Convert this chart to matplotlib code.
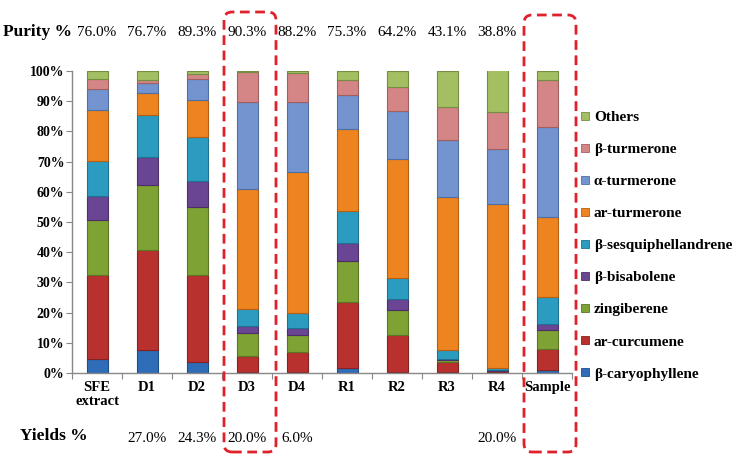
import matplotlib
matplotlib.use("Agg")
import matplotlib.pyplot as plt
import numpy as np
from matplotlib.patches import FancyBboxPatch
from matplotlib.lines import Line2D
from matplotlib.transforms import IdentityTransform, blended_transform_factory

plt.rcParams['font.family'] = ['Liberation Serif', 'DejaVu Serif']

categories = ["SFE\nextract", "D1", "D2", "D3", "D4", "R1", "R2", "R3", "R4", "Sample"]
components = ["β-caryophyllene", "ar-curcumene", "zingiberene", "β-bisabolene",
              "β-sesquiphellandrene", "ar-turmerone", "α-turmerone", "β-turmerone", "Others"]

caryophyllene = [4.6, 7.5, 3.5, 0.3, 0.3, 1.6, 0.3, 0.3, 0.3, 0.9]
ar_curcumene = [28.0, 33.2, 29.1, 5.4, 6.7, 21.8, 12.2, 3.4, 0.3, 7.0]
zingiberene = [17.9, 21.7, 22.3, 7.7, 5.5, 13.6, 8.2, 0.7, 0.2, 6.4]
bisabolene = [8.2, 9.0, 8.6, 2.0, 2.3, 6.1, 3.7, 0.4, 0.2, 2.0]
sesquiphellandrene = [11.4, 14.0, 14.5, 5.9, 5.2, 10.7, 7.2, 2.9, 0.8, 9.0]
ar_turmerone = [16.9, 7.2, 12.3, 39.7, 46.5, 27.0, 39.1, 50.5, 54.2, 26.3]
alpha_turmerone = [7.0, 3.4, 7.0, 28.9, 23.4, 11.2, 16.1, 18.9, 18.1, 30.0]
beta_turmerone = [3.3, 1.0, 1.6, 9.8, 9.6, 5.0, 7.9, 11.1, 12.4, 15.4]
others = [2.7, 3.0, 1.1, 0.3, 0.5, 3.0, 5.3, 11.8, 14.0, 3.0]

series = [caryophyllene, ar_curcumene, zingiberene, bisabolene, sesquiphellandrene,
          ar_turmerone, alpha_turmerone, beta_turmerone, others]

purity = ["76.0%", "76.7%", "89.3%", "90.3%", "88.2%", "75.3%", "64.2%", "43.1%", "38.8%", ""]
yields = ["", "27.0%", "24.3%", "20.0%", "6.0%", "", "", "", "20.0%", ""]
y_ticks = [0, 10, 20, 30, 40, 50, 60, 70, 80, 90, 100]
highlighted = [3, 9]

colors = ["#2f6db8", "#b8312f", "#7ea233", "#6a4593", "#2b9cc0",
          "#ee8420", "#7394cf", "#d48686", "#a3bf62"]
edges = ["#1f4f88", "#852220", "#5a7625", "#4b3068", "#1e7190",
         "#b45f12", "#4f6ea3", "#a25f5f", "#758d40"]

fig = plt.figure(figsize=(7.4, 4.61), dpi=100)
ax = fig.add_axes([72/740, 1 - 373/461, 500/740, (373-71)/461])

x = np.arange(len(categories))
bottom = np.zeros(len(categories))
for vals, c, e, name in zip(series, colors, edges, components):
    v = np.array(vals, dtype=float)
    ax.bar(x, v, width=0.42, bottom=bottom, color=c, edgecolor=e, linewidth=0.8, label=name)
    bottom += v

ax.set_xlim(-0.5, len(categories) - 0.5)
ax.set_ylim(0, 100)
ax.set_yticks(y_ticks)
ax.set_yticklabels([f"{t}%" for t in y_ticks], fontsize=10, fontweight='bold')
ax.set_xticks(np.arange(-0.5, len(categories)), minor=False)
ax.set_xticklabels([])
ax.set_xticks(x, minor=True)
ax.set_xticklabels(categories, minor=True, fontsize=10.5, fontweight='bold', linespacing=1.1)
ax.tick_params(axis='x', which='minor', length=0, pad=6)
ax.tick_params(axis='x', which='major', length=4, color='#888888', direction='out')
ax.tick_params(axis='y', length=4, color='#888888', direction='out', pad=1.5)
for s in ['top', 'right']:
    ax.spines[s].set_visible(False)
for s in ['left', 'bottom']:
    ax.spines[s].set_color('#888888')
    ax.spines[s].set_linewidth(1.0)

# Legend (reversed order)
handles = [Line2D([], [], marker='s', linestyle='none', markersize=6,
                  markerfacecolor=c, markeredgecolor=e, markeredgewidth=0.6)
           for c, e in zip(colors, edges)]
leg = fig.legend(handles[::-1], components[::-1], loc='upper left',
                 bbox_to_anchor=(574/740, 1 - 103/461), frameon=False,
                 prop={'weight': 'bold', 'size': 11}, labelspacing=1.20,
                 handlelength=0.5, handletextpad=0.3, borderpad=0)

# Purity row
trans = blended_transform_factory(ax.transData, fig.transFigure)
fig.text(3/740, 1 - 32/461, "Purity %", fontsize=12.5, fontweight='bold', va='center', ha='left')
for i, p in enumerate(purity):
    ax.text(i, 1 - 32/461, p, transform=trans, fontsize=11, ha='center', va='center')

# Yields row
fig.text(20/740, 1 - 436/461, "Yields %", fontsize=12.5, fontweight='bold', va='center', ha='left')
for i, yv in enumerate(yields):
    ax.text(i, 1 - 438/461, yv, transform=trans, fontsize=11, ha='center', va='center')

# Dashed highlight boxes
fig.canvas.draw()
H = 461
for idx in highlighted:
    xl = ax.transData.transform((idx - 0.46, 0))[0]
    xr = ax.transData.transform((idx + 0.58, 0))[0]
    top = H - 12 if idx == 3 else H - 15
    bot = H - 452
    box = FancyBboxPatch((xl + 6, bot + 6), (xr - xl) - 12, (top - bot) - 12,
                         boxstyle="round,pad=6,rounding_size=8",
                         transform=IdentityTransform(), fill=False,
                         edgecolor='#e0202a', linewidth=2.0,
                         linestyle=(0, (3.5, 2)), zorder=10)
    fig.patches.append(box)

fig.savefig("out.png", dpi=100)
